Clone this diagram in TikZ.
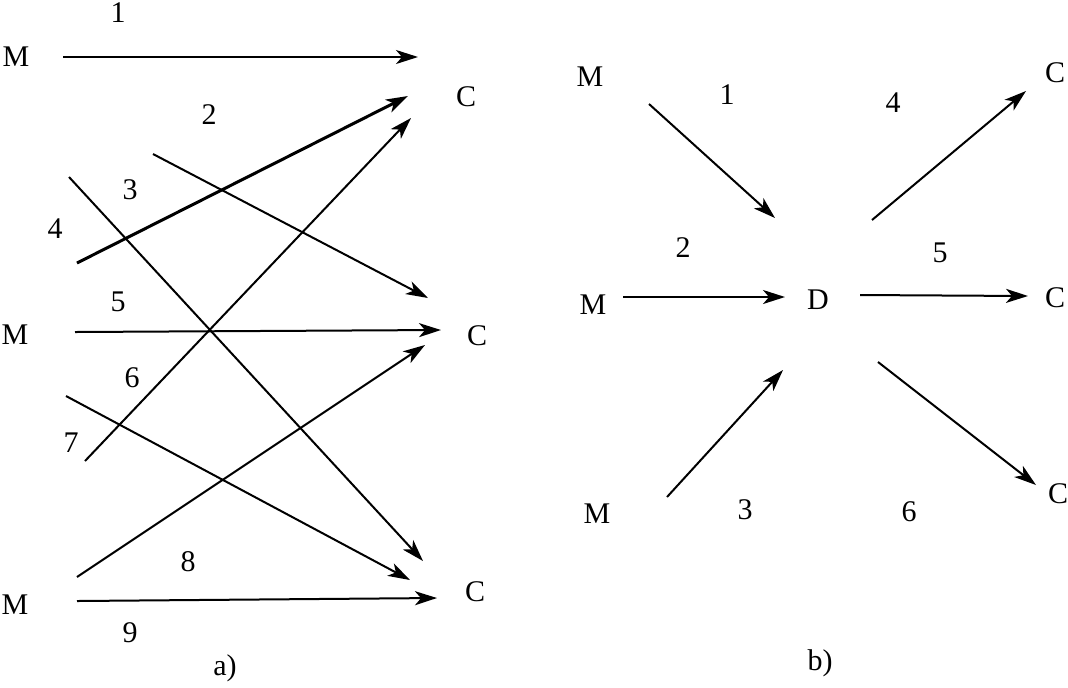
\documentclass[tikz,border=0pt]{standalone}
\usepackage{fontspec}
\setmainfont{Liberation Serif}
\usetikzlibrary{arrows.meta, positioning}

\begin{document}
\begin{tikzpicture}[x=0.5pt, y=-0.5pt, font=\fontsize{15}{18}\selectfont,
    lbl/.style={inner sep=0pt},
    flow/.style={line width=1pt, -{Stealth[length=11pt, width=7pt, inset=3pt]}},
    thickflow/.style={flow, line width=1.5pt}]
    \useasboundingbox (0,0) rectangle (1068,687);

    % a) makers and customers
    \node[lbl] (ma1) at (16,57) {M};
    \node[lbl] (ma2) at (15,335) {M};
    \node[lbl] (ma3) at (15,605) {M};
    \node[lbl] (ca1) at (466,97) {C};
    \node[lbl] (ca2) at (477,336) {C};
    \node[lbl] (ca3) at (475,592) {C};
    \node[lbl] (capa) at (225,668) {a)};

    % a) arrow ends
    \coordinate (a1s) at (63,57);   \coordinate (a1e) at (418,57);
    \coordinate (a2s) at (153,154); \coordinate (a2e) at (428,298);
    \coordinate (a3s) at (69,177);  \coordinate (a3e) at (423,561);
    \coordinate (a4s) at (77,263);  \coordinate (a4e) at (408,96);
    \coordinate (a5s) at (75,332);  \coordinate (a5e) at (441,330);
    \coordinate (a6s) at (66,396);  \coordinate (a6e) at (410,580);
    \coordinate (a7s) at (85,461);  \coordinate (a7e) at (411,118);
    \coordinate (a8s) at (77,577);  \coordinate (a8e) at (425,345);
    \coordinate (a9s) at (77,601);  \coordinate (a9e) at (437,598);

    % a) channels
    \draw[flow] (a1s) -- (a1e);
    \draw[flow] (a2s) -- (a2e);
    \draw[flow] (a3s) -- (a3e);
    \draw[thickflow] (a4s) -- (a4e);
    \draw[flow] (a5s) -- (a5e);
    \draw[flow] (a6s) -- (a6e);
    \draw[flow] (a7s) -- (a7e);
    \draw[flow] (a8s) -- (a8e);
    \draw[flow] (a9s) -- (a9e);

    % a) numbers
    \node[lbl] (na1) at (118,13) {1};
    \node[lbl] (na2) at (209,115) {2};
    \node[lbl] (na3) at (130,190) {3};
    \node[lbl] (na4) at (55,229) {4};
    \node[lbl] (na5) at (118,302) {5};
    \node[lbl] (na6) at (132,378) {6};
    \node[lbl] (na7) at (71,443) {7};
    \node[lbl] (na8) at (188,562) {8};
    \node[lbl] (na9) at (130,633) {9};

    % b) makers, distributor and customers
    \node[lbl] (mb1) at (590,77) {M};
    \node[lbl] (mb2) at (593,305) {M};
    \node[lbl] (mb3) at (597,514) {M};
    \node[lbl] (dist) at (818,300) {D};
    \node[lbl] (cb1) at (1055,73) {C};
    \node[lbl] (cb2) at (1055,298) {C};
    \node[lbl] (cb3) at (1058,494) {C};
    \node[lbl] (capb) at (820,663) {b)};

    % b) arrow ends
    \coordinate (b1s) at (649,104); \coordinate (b1e) at (775,218);
    \coordinate (b2s) at (623,297); \coordinate (b2e) at (785,297);
    \coordinate (b3s) at (667,497); \coordinate (b3e) at (783,370);
    \coordinate (b4s) at (872,220); \coordinate (b4e) at (1026,91);
    \coordinate (b5s) at (860,295); \coordinate (b5e) at (1028,296);
    \coordinate (b6s) at (878,362); \coordinate (b6e) at (1036,485);

    % b) channels
    \draw[flow] (b1s) -- (b1e);
    \draw[flow] (b2s) -- (b2e);
    \draw[flow] (b3s) -- (b3e);
    \draw[flow] (b4s) -- (b4e);
    \draw[flow] (b5s) -- (b5e);
    \draw[flow] (b6s) -- (b6e);

    % b) numbers
    \node[lbl] (nb1) at (727,95) {1};
    \node[lbl] (nb2) at (683,248) {2};
    \node[lbl] (nb3) at (745,510) {3};
    \node[lbl] (nb4) at (893,103) {4};
    \node[lbl] (nb5) at (940,253) {5};
    \node[lbl] (nb6) at (909,512) {6};
\end{tikzpicture}
\end{document}
